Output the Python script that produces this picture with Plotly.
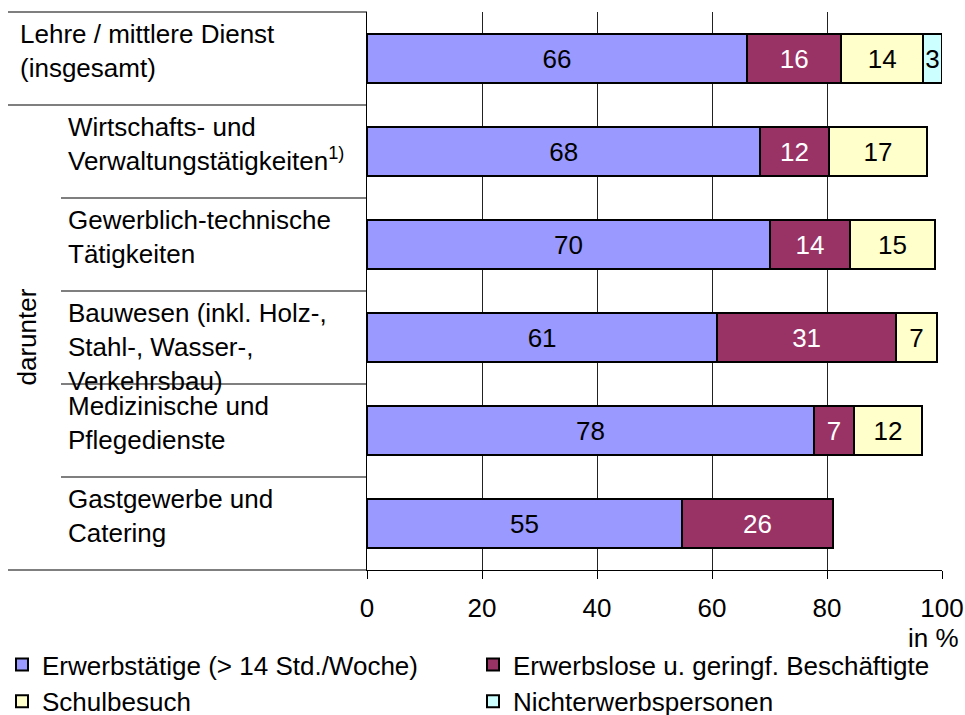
import plotly.graph_objects as go

# ---------------- data ----------------
categories = [
    "Lehre / mittlere Dienst<br>(insgesamt)",
    "Wirtschafts- und<br>Verwaltungstätigkeiten<sup>1)</sup>",
    "Gewerblich-technische<br>Tätigkeiten",
    "Bauwesen (inkl. Holz-,<br>Stahl-, Wasser-,<br>Verkehrsbau)",
    "Medizinische und<br>Pflegedienste",
    "Gastgewerbe und<br>Catering",
]
erwerbstaetige = [66.1, 68.4, 70.1, 60.9, 77.7, 54.8]
erwerbslose = [16.4, 11.9, 13.9, 31.1, 7.0, 26.2]
schulbesuch = [14.2, 17.1, 14.8, 7.1, 11.8, None]
nichterwerb = [3.3, None, None, None, None, None]
series_names = [
    "Erwerbstätige (> 14 Std./Woche)",
    "Erwerbslose u. geringf. Beschäftigte",
    "Schulbesuch",
    "Nichterwerbspersonen",
]
x_ticks = [0, 20, 40, 60, 80, 100]
group_label = "darunter"
unit_label = "in %"

# ---------------- styling ----------------
W, H = 965, 715
# plot area box in pixels
SL, SR, ST, SB = 367, 942, 12, 570
FONT = "Liberation Sans, Arial, sans-serif"
FS = 26
colors = ["#9999FF", "#993366", "#FFFFCC", "#CCFFFF"]
text_colors = ["black", "white", "black", "black"]


def px_x(sx):
    return (sx - SL) / (SR - SL)


def px_y(sy):
    return (SB - sy) / (SB - ST)


fig = go.Figure()
for name, vals, col, tcol in zip(series_names,
                                 [erwerbstaetige, erwerbslose, schulbesuch, nichterwerb],
                                 colors, text_colors):
    fig.add_trace(go.Bar(
        y=categories, x=vals, name=name, orientation="h",
        marker=dict(color=col, line=dict(color="black", width=2)),
        texttemplate="%{x:.0f}", textposition="inside",
        insidetextanchor="middle", constraintext="none", textangle=0,
        insidetextfont=dict(color=tcol, size=FS, family=FONT),
        hoverinfo="skip",
    ))

n = len(categories)
row_h = (SB - ST) / n
shapes = []
annotations = []
for i, cat in enumerate(categories):
    top = ST + i * row_h
    xstart = 18 if i == 0 else 66
    annotations.append(dict(
        text=cat, xref="paper", yref="paper", x=px_x(xstart), y=px_y(top + 5),
        xanchor="left", yanchor="top", align="left", showarrow=False,
        font=dict(size=FS, family=FONT, color="black"),
    ))
# row separator lines in category area
for i in range(n + 1):
    yb = ST + i * row_h
    x0 = 8 if i in (0, 1, n) else 61
    shapes.append(dict(type="line", xref="paper", yref="paper",
                       x0=px_x(x0), x1=0, y0=px_y(yb), y1=px_y(yb),
                       line=dict(color="black", width=1.2)))

annotations.append(dict(
    text=group_label, xref="paper", yref="paper", x=px_x(27),
    y=px_y((ST + row_h + SB) / 2), textangle=-90, showarrow=False,
    xanchor="center", yanchor="middle", font=dict(size=FS, family=FONT, color="black"),
))
annotations.append(dict(
    text=unit_label, xref="paper", yref="paper", x=px_x(961), y=px_y(638),
    xanchor="right", yanchor="middle", showarrow=False,
    font=dict(size=FS, family=FONT, color="black"),
))

fig.update_layout(
    width=W, height=H,
    margin=dict(l=SL, r=W - SR, t=ST, b=H - SB, pad=0, autoexpand=False),
    barmode="stack", bargap=0.48,
    plot_bgcolor="white", paper_bgcolor="white",
    font=dict(family=FONT, size=FS, color="black"),
    shapes=shapes, annotations=annotations,
    legend=dict(orientation="h", xref="paper", yref="paper",
                x=px_x(2), y=px_y(641), xanchor="left", yanchor="top",
                entrywidth=426, entrywidthmode="pixels", traceorder="normal",
                font=dict(size=FS, family=FONT), tracegroupgap=0,
                itemclick=False, itemdoubleclick=False),
    showlegend=True,
)
fig.update_xaxes(range=[0, 100], tickvals=x_ticks, ticks="outside", ticklen=8,
                 tickcolor="black", showline=True, linecolor="black", linewidth=1.2,
                 showgrid=True, gridcolor="#222222", gridwidth=1, zeroline=False,
                 ticklabelstandoff=7, tickfont=dict(size=FS, family=FONT))
fig.update_yaxes(autorange="reversed", showticklabels=False, ticks="",
                 showline=True, linecolor="black", linewidth=1.2,
                 showgrid=False, zeroline=False)

fig.write_html(
    "out.html",
    config={"displayModeBar": False},
    post_script=("document.body.style.margin='0';document.body.style.padding='0';"
                 "document.documentElement.style.overflow='hidden';"),
)
